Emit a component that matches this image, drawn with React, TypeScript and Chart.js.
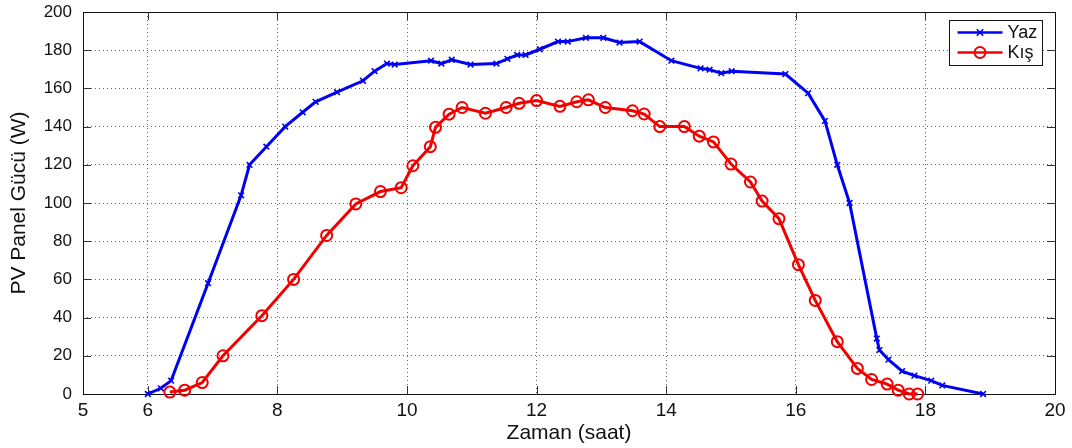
import React, { useEffect, useRef } from 'react';
import { Chart, registerables } from 'chart.js';

Chart.register(...registerables);

// ---- data ----
const seriesLabels = ['Yaz', 'Kış'];

const yazTime = [
  6.0, 6.2, 6.36, 6.93, 7.44, 7.57, 7.83, 8.12, 8.39, 8.59, 8.92, 9.32, 9.5, 9.69, 9.81,
  10.37, 10.53, 10.69, 10.98, 11.38, 11.55, 11.7, 11.83, 12.05, 12.33, 12.48, 12.76, 13.03,
  13.28, 13.59, 14.08, 14.53, 14.67, 14.85, 15.01, 15.84, 16.19, 16.45, 16.64, 16.83, 17.25,
  17.29, 17.43, 17.64, 17.83, 18.09, 18.26, 18.89,
];
const yazPower = [
  0, 3, 7, 58, 104, 120, 129.5, 140, 147.5, 153, 158, 164, 169, 173, 172.5,
  174.5, 173, 175, 172.5, 173, 175.5, 177.5, 177.5, 180.5, 184.5, 184.5, 186.5, 186.5,
  184, 184.5, 174.5, 170.5, 169.8, 168, 169, 167.5, 157.5, 143, 120, 100, 29,
  23, 18, 12, 9.6, 7, 4.5, 0,
];

const kisTime = [
  6.34, 6.57, 6.84, 7.16, 7.76, 8.25, 8.76, 9.21, 9.59, 9.91, 10.09, 10.36, 10.44, 10.65,
  10.85, 11.21, 11.53, 11.73, 12.0, 12.36, 12.62, 12.8, 13.06, 13.48, 13.66, 13.9, 14.28,
  14.51, 14.73, 15.0, 15.3, 15.48, 15.74, 16.04, 16.3, 16.64, 16.95, 17.17, 17.41, 17.58,
  17.75, 17.88,
];
const kisPower = [
  1, 2, 6, 20, 41, 60, 83, 99.5, 106, 108, 119.5, 129.5, 139.6, 146.5,
  150, 147, 150, 152.2, 153.6, 150.6, 153, 154, 150, 148.3, 146.6, 140, 140,
  135, 132, 120.4, 111, 101, 91.8, 67.7, 49, 27.4, 13.4, 7.6, 5.2, 2,
  0, 0,
];

const xTickValues = [5, 6, 8, 10, 12, 14, 16, 18, 20];
const yTickValues = [0, 20, 40, 60, 80, 100, 120, 140, 160, 180, 200];
const xTitle = 'Zaman (saat)';
const yTitle = 'PV Panel Gücü (W)';

const BLUE = '#0000f2';
const RED = '#f20000';

const toPoints = (xs: number[], ys: number[]) => xs.map((x, i) => ({ x, y: ys[i] }));

const framePlugin = {
  id: 'matlabFrame',
  beforeDatasetsDraw(chart: any) {
    const { ctx, chartArea: a, scales } = chart;
    const xs = scales.x;
    const ys = scales.y;
    const L = 8;
    ctx.save();
    ctx.strokeStyle = '#333';
    ctx.lineWidth = 1;
    ctx.beginPath();
    xTickValues.forEach((v) => {
      if (v <= xs.min || v >= xs.max) return;
      const px = Math.round(xs.getPixelForValue(v)) + 0.5;
      ctx.moveTo(px, a.bottom);
      ctx.lineTo(px, a.bottom - L);
      ctx.moveTo(px, a.top);
      ctx.lineTo(px, a.top + L);
    });
    yTickValues.forEach((v) => {
      if (v <= ys.min || v >= ys.max) return;
      const py = Math.round(ys.getPixelForValue(v)) + 0.5;
      ctx.moveTo(a.left, py);
      ctx.lineTo(a.left + L, py);
      ctx.moveTo(a.right, py);
      ctx.lineTo(a.right - L, py);
    });
    ctx.stroke();
    ctx.strokeStyle = '#111';
    ctx.strokeRect(
      Math.round(a.left) + 0.5,
      Math.round(a.top) + 0.5,
      Math.round(a.right) - Math.round(a.left),
      Math.round(a.bottom) - Math.round(a.top)
    );
    ctx.restore();
  },
  afterDraw(chart: any) {
    const { ctx, chartArea: a } = chart;
    const boxW = 93;
    const boxH = 45;
    const bx = Math.round(a.right - 13 - boxW) + 0.5;
    const by = Math.round(a.top + 8) + 0.5;
    ctx.save();
    ctx.fillStyle = '#fff';
    ctx.fillRect(bx, by, boxW, boxH);
    ctx.strokeStyle = '#111';
    ctx.lineWidth = 1;
    ctx.strokeRect(bx, by, boxW, boxH);
    chart.data.datasets.forEach((ds: any, i: number) => {
      const cy = by + 12 + i * 20;
      const x1 = bx + 8;
      const x2 = bx + 53;
      const cx = (x1 + x2) / 2;
      ctx.strokeStyle = ds.borderColor;
      ctx.lineWidth = 2.5;
      ctx.beginPath();
      ctx.moveTo(x1, cy);
      ctx.lineTo(x2, cy);
      ctx.stroke();
      ctx.lineWidth = ds.pointBorderWidth;
      ctx.beginPath();
      if (ds.pointStyle === 'circle') {
        ctx.arc(cx, cy, ds.pointRadius, 0, Math.PI * 2);
      } else {
        const r = ds.pointRadius * 0.8;
        ctx.moveTo(cx - r, cy - r);
        ctx.lineTo(cx + r, cy + r);
        ctx.moveTo(cx - r, cy + r);
        ctx.lineTo(cx + r, cy - r);
      }
      ctx.stroke();
      ctx.fillStyle = '#111';
      ctx.font = '18px "Liberation Sans", Arial, sans-serif';
      ctx.textAlign = 'left';
      ctx.textBaseline = 'middle';
      ctx.fillText(ds.label, x2 + 5, cy + 1);
    });
    ctx.restore();
  },
};

export default function App() {
  const canvasRef = useRef<HTMLCanvasElement | null>(null);

  useEffect(() => {
    document.body.style.margin = '0';
    const canvas = canvasRef.current;
    if (!canvas) return;
    const gridColor = 'rgba(0,0,0,0.6)';
    const chart = new Chart(canvas, {
      type: 'line',
      data: {
        datasets: [
          {
            label: seriesLabels[0],
            data: toPoints(yazTime, yazPower),
            borderColor: BLUE,
            backgroundColor: 'transparent',
            borderWidth: 3,
            pointStyle: 'crossRot',
            pointRadius: 4,
            pointBorderWidth: 1.6,
            pointBorderColor: BLUE,
            pointBackgroundColor: 'transparent',
            tension: 0,
            clip: false,
          } as any,
          {
            label: seriesLabels[1],
            data: toPoints(kisTime, kisPower),
            borderColor: RED,
            backgroundColor: 'transparent',
            borderWidth: 3,
            pointStyle: 'circle',
            pointRadius: 5.5,
            pointBorderWidth: 2,
            pointBorderColor: RED,
            pointBackgroundColor: 'transparent',
            tension: 0,
            clip: false,
          } as any,
        ],
      },
      options: {
        animation: false,
        responsive: true,
        maintainAspectRatio: false,
        layout: { padding: { left: 0, right: 17, top: 12, bottom: 0 } },
        plugins: {
          legend: { display: false },
          tooltip: { enabled: false },
          title: { display: false },
        },
        scales: {
          x: {
            type: 'linear',
            min: 5,
            max: 20,
            afterBuildTicks: (s: any) => {
              s.ticks = xTickValues.map((v) => ({ value: v }));
            },
            afterFit: (s: any) => {
              s.height = 54;
              s.paddingLeft = 0;
              s.paddingRight = 0;
            },
            grid: {
              color: (c: any) =>
                c.tick && (c.tick.value === 5 || c.tick.value === 20) ? 'rgba(0,0,0,0)' : gridColor,
              lineWidth: 1,
              drawTicks: false,
            },
            border: { display: false, dash: [1, 3] },
            ticks: {
              padding: 5,
              color: '#111',
              maxRotation: 0,
              autoSkip: false,
              font: { family: '"Liberation Sans", Arial, sans-serif', size: 19 },
            },
            title: {
              display: true,
              text: xTitle,
              color: '#111',
              padding: { top: 0, bottom: 2 },
              font: { family: '"Liberation Sans", Arial, sans-serif', size: 21 },
            },
          },
          y: {
            type: 'linear',
            min: 0,
            max: 200,
            afterBuildTicks: (s: any) => {
              s.ticks = yTickValues.map((v) => ({ value: v }));
            },
            afterFit: (s: any) => {
              s.width = 83;
              s.paddingTop = 0;
              s.paddingBottom = 0;
            },
            grid: {
              color: (c: any) =>
                c.tick && (c.tick.value === 0 || c.tick.value === 200) ? 'rgba(0,0,0,0)' : gridColor,
              lineWidth: 1,
              drawTicks: false,
            },
            border: { display: false, dash: [1, 3] },
            ticks: {
              padding: 11,
              color: '#111',
              autoSkip: false,
              font: { family: '"Liberation Sans", Arial, sans-serif', size: 17 },
            },
            title: {
              display: true,
              text: yTitle,
              color: '#111',
              padding: { top: 7, bottom: 0 },
              font: { family: '"Liberation Sans", Arial, sans-serif', size: 21 },
            },
          },
        },
      },
      plugins: [framePlugin],
    });
    return () => chart.destroy();
  }, []);

  return (
    <div style={{ width: 1072, height: 448, position: 'relative' }}>
      <canvas ref={canvasRef} />
    </div>
  );
}
